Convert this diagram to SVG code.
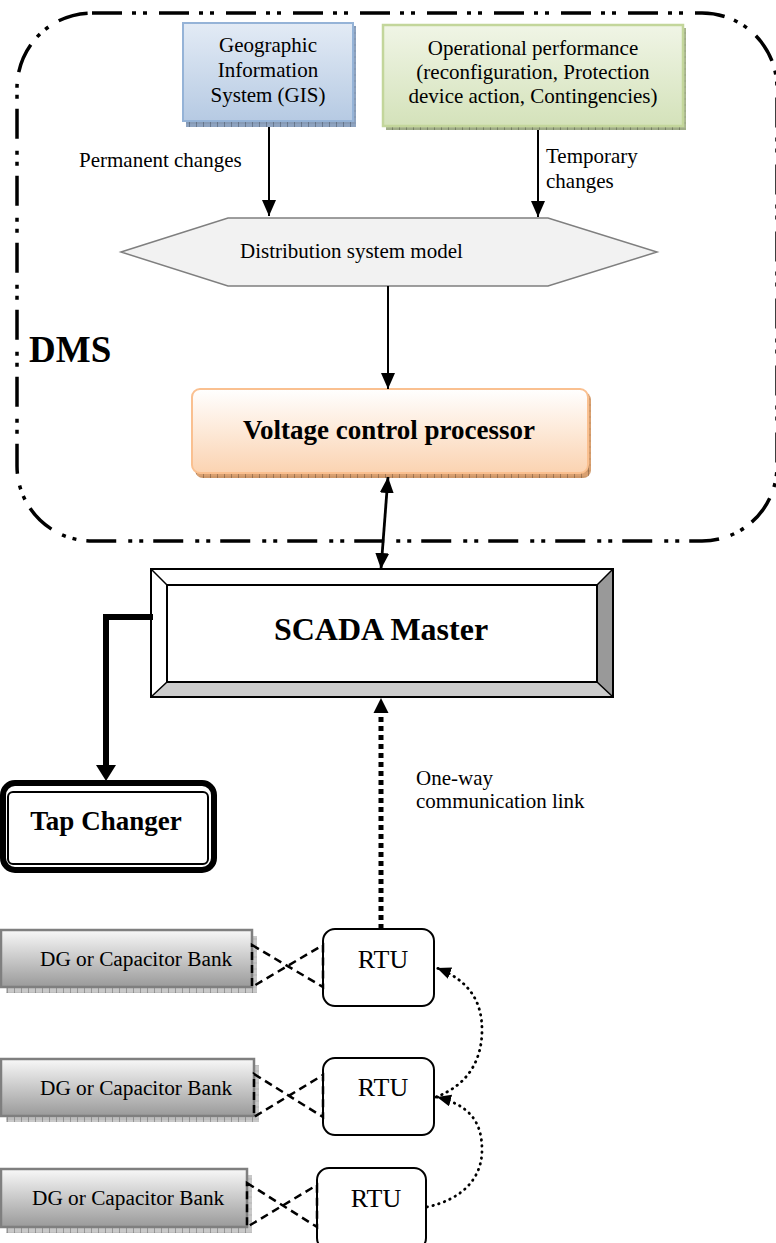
<svg xmlns="http://www.w3.org/2000/svg" width="776" height="1243" viewBox="0 0 776 1243">
<defs>
<style>
.t{font-family:"Liberation Serif","Times New Roman",serif;fill:#000}
.n{font-size:21px}
.b{font-weight:bold}
.ln{stroke:#000;stroke-width:2;fill:none}
.dot{stroke:#000;stroke-width:2.8;fill:none;stroke-dasharray:0.5 5.5;stroke-linecap:round}
.bow{stroke:#000;stroke-width:2.5;fill:none;stroke-dasharray:8 5}
.rtu{fill:#fff;stroke:#000;stroke-width:2}
.dg{fill:url(#gDG);stroke:#7f7f7f;stroke-width:2.5}
</style>
<linearGradient id="gBlue" x1="0" y1="0" x2="0" y2="1"><stop offset="0" stop-color="#e3ebf5"/><stop offset="1" stop-color="#b6cae3"/></linearGradient>
<linearGradient id="gGreen" x1="0" y1="0" x2="0" y2="1"><stop offset="0" stop-color="#f0f5e6"/><stop offset="1" stop-color="#d4e2ba"/></linearGradient>
<linearGradient id="gPeach" x1="0" y1="0" x2="0" y2="1"><stop offset="0" stop-color="#ffffff"/><stop offset="1" stop-color="#fbd3b1"/></linearGradient>
<linearGradient id="gDG" x1="0" y1="0" x2="0" y2="1"><stop offset="0" stop-color="#f8f8f8"/><stop offset="1" stop-color="#9a9a9a"/></linearGradient>
<pattern id="hatch" width="7" height="6" patternUnits="userSpaceOnUse"><rect width="7" height="6" fill="none"/><line x1="0.5" y1="0" x2="0.5" y2="6" stroke="#000" stroke-opacity="0.25" stroke-width="1"/><line x1="0" y1="3" x2="7" y2="3" stroke="#000" stroke-opacity="0.1" stroke-width="1"/></pattern>
<marker id="ah" markerUnits="userSpaceOnUse" markerWidth="17" markerHeight="15" refX="16" refY="7" orient="auto-start-reverse"><path d="M0,0 L16,7 L0,14 z" fill="#000"/></marker>
<marker id="ahS" markerUnits="userSpaceOnUse" markerWidth="15" markerHeight="13" refX="14" refY="6" orient="auto"><path d="M0,0 L14,6 L0,12 z" fill="#000"/></marker>
</defs>
<rect width="776" height="1243" fill="#fff"/>

<g id="dms">
<rect x="17" y="13" width="760" height="528" rx="75" ry="75" fill="none" stroke="#000" stroke-width="3.5" stroke-dasharray="30 10 4 7 4 12"/>
<text class="t b" x="29" y="362" font-size="37">DMS</text>
</g>

<g id="gis">
<rect x="186" y="26" width="170" height="101" fill="#8ea3c0"/>
<rect x="186" y="26" width="170" height="101" fill="url(#hatch)"/>
<rect x="183" y="23" width="170" height="98" fill="url(#gBlue)" stroke="#95b3d7" stroke-width="2"/>
<text class="t n" text-anchor="middle" x="268" y="52">Geographic</text>
<text class="t n" text-anchor="middle" x="268" y="77">Information</text>
<text class="t n" text-anchor="middle" x="268" y="102">System (GIS)</text>
</g>

<g id="opperf">
<rect x="386" y="28" width="300" height="102" fill="#a8b58e"/>
<rect x="386" y="28" width="300" height="102" fill="url(#hatch)"/>
<rect x="383" y="25" width="300" height="101" fill="url(#gGreen)" stroke="#c3d69b" stroke-width="2.5"/>
<text class="t n" text-anchor="middle" x="533" y="55">Operational performance</text>
<text class="t n" text-anchor="middle" x="533" y="79">(reconfiguration, Protection</text>
<text class="t n" text-anchor="middle" x="533" y="103">device action, Contingencies)</text>
</g>

<g id="labels">
<text class="t n" x="79" y="167">Permanent changes</text>
<text class="t n" x="546" y="163">Temporary</text>
<text class="t n" x="546" y="188">changes</text>
<text class="t n" x="416" y="785">One-way</text>
<text class="t n" x="416" y="808">communication link</text>
</g>

<g id="dsm">
<polygon points="121,252 228,218 548,218 657,252 548,286 228,286" fill="#f2f2f2" stroke="#7f7f7f" stroke-width="1.5"/>
<text class="t n" x="240" y="258">Distribution system model</text>
</g>

<g id="vcp">
<rect x="195" y="392" width="396" height="86" rx="8" fill="#d9a070"/>
<rect x="195" y="392" width="396" height="86" rx="8" fill="url(#hatch)"/>
<rect x="192" y="389" width="396" height="84" rx="8" fill="url(#gPeach)" stroke="#fac090" stroke-width="2"/>
<text class="t b" text-anchor="middle" x="389" y="439" font-size="27">Voltage control processor</text>
</g>

<g id="scada">
<polygon points="151,569 613,569 597,585 167,585" fill="#fff"/>
<polygon points="151,569 167,585 167,682 151,697" fill="#fff"/>
<polygon points="613,569 613,697 597,682 597,585" fill="#999"/>
<polygon points="151,697 167,682 597,682 613,697" fill="#ccc"/>
<rect x="151" y="569" width="462" height="128" fill="none" stroke="#000" stroke-width="2"/>
<rect x="167" y="585" width="430" height="97" fill="#fff" stroke="#000" stroke-width="2"/>
<path d="M151,569 L167,585 M613,569 L597,585 M151,697 L167,682 M613,697 L597,682" stroke="#000" stroke-width="1.5"/>
<text class="t b" text-anchor="middle" x="381" y="640" font-size="32">SCADA Master</text>
</g>

<g id="tapchanger">
<rect x="3" y="783" width="211" height="87" rx="12" fill="#fff" stroke="#000" stroke-width="6"/>
<rect x="8" y="792" width="200" height="72" rx="5" fill="none" stroke="#000" stroke-width="2"/>
<text class="t b" text-anchor="middle" x="106" y="830" font-size="27">Tap Changer</text>
</g>

<g id="dg1">
<rect x="6" y="936" width="251" height="57" fill="#c8c8c8"/>
<rect x="6" y="936" width="251" height="57" fill="url(#hatch)"/>
<rect x="1" y="930" width="251" height="57" class="dg"/>
<text class="t" x="40" y="966" font-size="21.3">DG or Capacitor Bank</text>
</g>
<g id="dg2">
<rect x="6" y="1065" width="253" height="57" fill="#c8c8c8"/>
<rect x="6" y="1065" width="253" height="57" fill="url(#hatch)"/>
<rect x="1" y="1059" width="253" height="57" class="dg"/>
<text class="t" x="40" y="1095" font-size="21.3">DG or Capacitor Bank</text>
</g>
<g id="dg3">
<rect x="6" y="1175" width="246" height="58" fill="#c8c8c8"/>
<rect x="6" y="1175" width="246" height="58" fill="url(#hatch)"/>
<rect x="1" y="1169" width="246" height="58" class="dg"/>
<text class="t" x="32" y="1205" font-size="21.3">DG or Capacitor Bank</text>
</g>

<g id="rtu1">
<rect x="323" y="929" width="111" height="77" rx="12" class="rtu"/>
<text class="t" text-anchor="middle" x="383" y="968" font-size="26">RTU</text>
</g>
<g id="rtu2">
<rect x="323" y="1058" width="111" height="77" rx="12" class="rtu"/>
<text class="t" text-anchor="middle" x="383" y="1096" font-size="26">RTU</text>
</g>
<g id="rtu3">
<rect x="317" y="1168" width="109" height="82" rx="12" class="rtu"/>
<text class="t" text-anchor="middle" x="376" y="1207" font-size="26">RTU</text>
</g>

<g id="connectors">
<line class="ln" x1="269" y1="127" x2="269" y2="216" marker-end="url(#ah)"/>
<line class="ln" x1="538" y1="130" x2="538" y2="217" marker-end="url(#ah)"/>
<line class="ln" x1="388" y1="286" x2="388" y2="389" marker-end="url(#ah)"/>
<line x1="388" y1="477" x2="381" y2="569" stroke="#000" stroke-width="2.8" marker-start="url(#ah)" marker-end="url(#ah)"/>
<path d="M153,617 H106 V766" fill="none" stroke="#000" stroke-width="6"/>
<polygon points="96,765 116,765 106,781" fill="#000"/>
<line x1="381" y1="929" x2="381" y2="713" stroke="#000" stroke-width="5" stroke-dasharray="5 4"/>
<polygon points="373.5,713 388.5,713 381,698" fill="#000"/>
<polygon points="252,945 323,987 323,945 252,987 z" class="bow"/>
<polygon points="254,1074 323,1117 323,1075 254,1117 z" class="bow"/>
<polygon points="247,1183 317,1227 317,1185 247,1227 z" class="bow"/>
<path class="dot" d="M436,1097 C468,1085 482,1060 482,1030 C482,1000 468,980 437,968" marker-end="url(#ahS)"/>
<path class="dot" d="M427,1207 C460,1200 482,1180 482,1150 C482,1120 468,1105 437,1097" marker-end="url(#ahS)"/>
</g>
</svg>
